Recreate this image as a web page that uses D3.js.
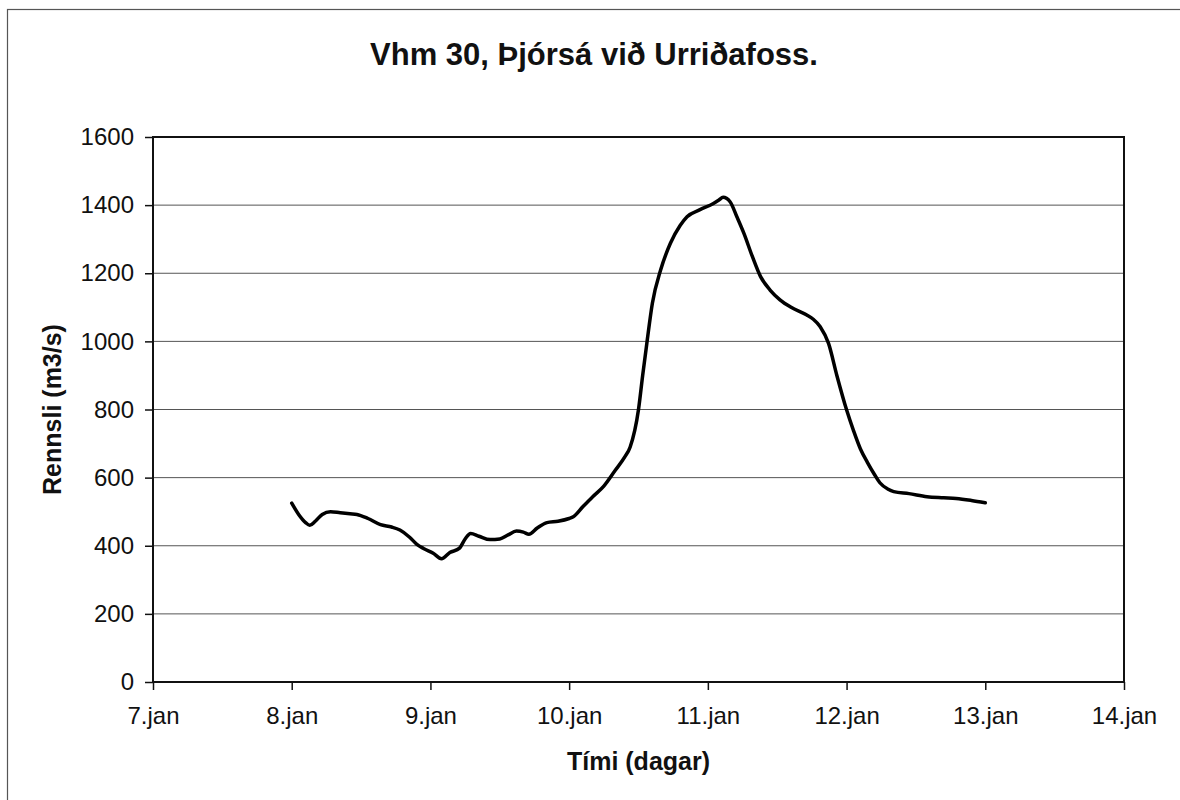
<!DOCTYPE html>
<html>
<head>
<meta charset="utf-8">
<script src="https://cdn.jsdelivr.net/npm/d3@7"></script>
<style>
    body { margin: 0; background: #fff; }
    text { font-family: "Liberation Sans", Arial, sans-serif; fill: #111; }
    .tick line { stroke: #111; stroke-width: 1.5; }
    .gridLines { stroke: #555; stroke-width: 1; }
</style>
</head>
<body>
<script>
//chart texts
var titleText = "Vhm 30, Þjórsá við Urriðafoss.",
    xLabelText = "Tími (dagar)",
    yLabelText = "Rennsli (m3/s)";

//tick values
var xTicks = [7, 8, 9, 10, 11, 12, 13, 14],
    yTicks = [0, 200, 400, 600, 800, 1000, 1200, 1400, 1600];

//time in days (day of january) and discharge in m3/s
var days = [8.00, 8.05, 8.10, 8.13, 8.17, 8.22, 8.28, 8.35, 8.42, 8.47, 8.55, 8.64, 8.72, 8.78,
    8.85, 8.90, 8.95, 9.02, 9.08, 9.14, 9.21, 9.25, 9.29, 9.35, 9.43, 9.50, 9.56, 9.62, 9.67,
    9.71, 9.77, 9.84, 9.92, 10.00, 10.03, 10.10, 10.17, 10.25, 10.33, 10.40, 10.44, 10.50,
    10.53, 10.56, 10.60, 10.66, 10.73, 10.80, 10.85, 10.94, 11.04, 11.08, 11.11, 11.16, 11.21,
    11.26, 11.32, 11.38, 11.45, 11.52, 11.60, 11.71, 11.76, 11.81, 11.87, 11.93, 12.00, 12.05,
    12.10, 12.15, 12.20, 12.24, 12.30, 12.34, 12.45, 12.58, 12.70, 12.79, 12.90, 13.00];
var flow = [525, 492, 468, 460, 472, 492, 500, 497, 494, 492, 480, 462, 455, 446,
    425, 405, 392, 378, 362, 380, 393, 420, 436, 428, 418, 420, 432, 443, 440,
    434, 452, 468, 472, 480, 485, 515, 544, 575, 620, 660, 690, 800,
    900, 994, 1112, 1210, 1288, 1340, 1366, 1386, 1405, 1415, 1423, 1410, 1365,
    1317, 1250, 1190, 1150, 1122, 1100, 1078, 1065, 1043, 994, 900, 799, 738,
    684, 645, 610, 585, 566, 559, 553, 544, 541, 539, 533, 526];

window.onload = drawChart();

function drawChart(){

    //svg frame
    var width = 1180,
        height = 800;

    //plot area edges
    var left = 153,
        right = 1124,
        top = 137,
        bottom = 682;

    var svg = d3.select("body")
        .append("svg")
        .attr("width", width)
        .attr("height", height);

    //outer chart border (right and bottom run off the page)
    svg.append("rect")
        .attr("x", 7.5)
        .attr("y", 9.5)
        .attr("width", 1200)
        .attr("height", 820)
        .attr("fill", "none")
        .attr("stroke", "#555")
        .attr("stroke-width", 1.2);

    var x = d3.scaleLinear()
        .domain([7, 14])
        .range([left, right]);

    var y = d3.scaleLinear()
        .domain([0, 1600])
        .range([bottom, top]);

    //horizontal gridlines
    svg.selectAll(".gridLines")
        .data(yTicks)
        .enter()
        .append("line")
        .attr("class", "gridLines")
        .attr("x1", left)
        .attr("x2", right)
        .attr("y1", function(d){ return y(d); })
        .attr("y2", function(d){ return y(d); });

    //y axis
    var yAxis = svg.append("g")
        .attr("transform", "translate(" + left + ",0)")
        .call(d3.axisLeft(y)
            .tickValues(yTicks)
            .tickSize(8)
            .tickPadding(11)
            .tickFormat(d3.format("d")));

    //x axis
    var xAxis = svg.append("g")
        .attr("transform", "translate(0," + bottom + ")")
        .call(d3.axisBottom(x)
            .tickValues(xTicks)
            .tickSize(8)
            .tickPadding(17)
            .tickFormat(function(d){ return d + ".jan"; }));

    svg.selectAll(".domain").remove();
    svg.selectAll(".tick text")
        .attr("font-size", 24)
        .attr("font-family", "Liberation Sans, Arial, sans-serif");

    //plot area border
    svg.append("rect")
        .attr("x", left)
        .attr("y", top)
        .attr("width", right - left)
        .attr("height", bottom - top)
        .attr("fill", "none")
        .attr("stroke", "#111")
        .attr("stroke-width", 2);

    //discharge line
    var line = d3.line()
        .x(function(d, i){ return x(days[i]); })
        .y(function(d){ return y(d); })
        .curve(d3.curveMonotoneX);

    svg.append("path")
        .datum(flow)
        .attr("d", line)
        .attr("fill", "none")
        .attr("stroke", "#000")
        .attr("stroke-width", 3.5)
        .attr("stroke-linejoin", "round")
        .attr("stroke-linecap", "round");

    //title and axis labels
    svg.append("text")
        .attr("x", 594)
        .attr("y", 65)
        .attr("text-anchor", "middle")
        .attr("font-size", 31)
        .attr("font-weight", "bold")
        .text(titleText);

    svg.append("text")
        .attr("x", (left + right) / 2)
        .attr("y", 770)
        .attr("text-anchor", "middle")
        .attr("font-size", 25)
        .attr("font-weight", "bold")
        .text(xLabelText);

    svg.append("text")
        .attr("transform", "translate(61," + ((top + bottom) / 2) + ") rotate(-90)")
        .attr("text-anchor", "middle")
        .attr("font-size", 25)
        .attr("font-weight", "bold")
        .text(yLabelText);
};
</script>
</body>
</html>
